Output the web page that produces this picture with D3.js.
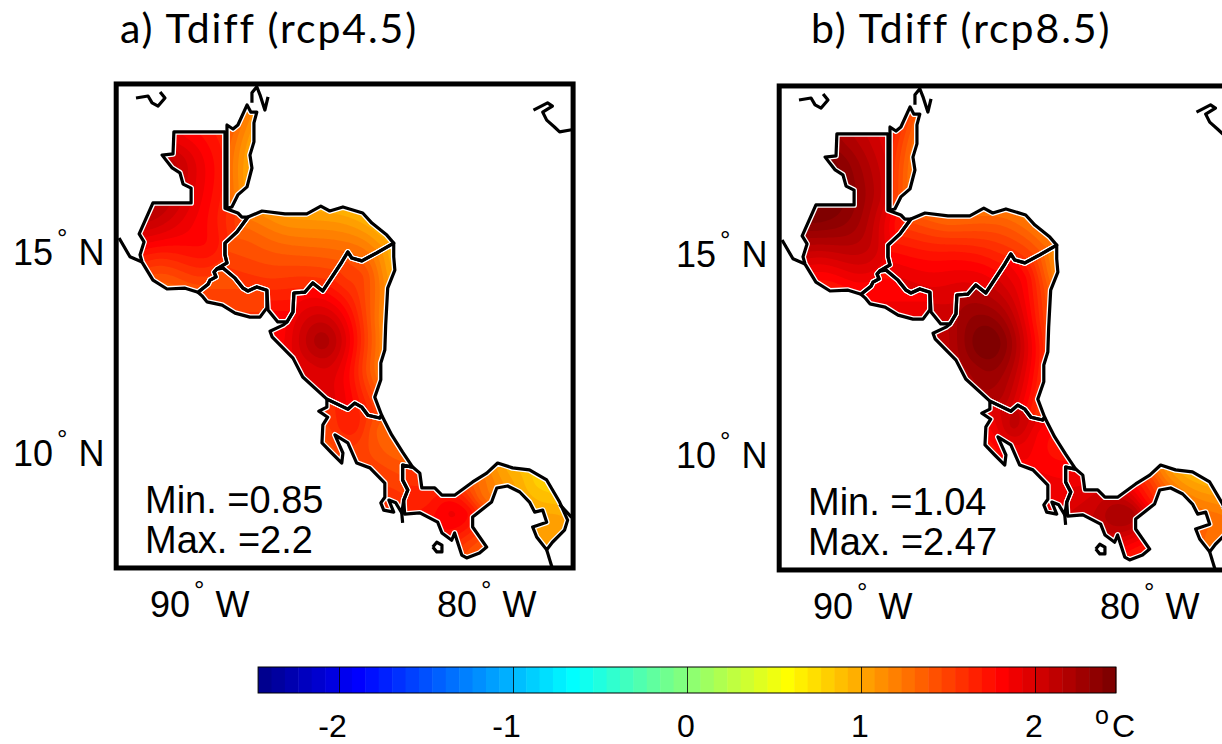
<!DOCTYPE html>
<html>
<head>
<meta charset="utf-8">
<script src="https://cdn.jsdelivr.net/npm/d3@7"></script>
<style>
html, body { margin: 0; padding: 0; background: #fff; overflow: hidden; }
</style>
</head>
<body>
<svg id="chart" width="1222" height="744"></svg>
<script>
// Country outlines, [lon, lat]
const guatemala = [[-90.91,17.99],[-89.13,17.99],[-89.13,16.09],[-88.68,15.97],[-88.54,15.87],[-88.33,15.87],[-88.71,15.50],[-89.13,15.22],[-89.13,14.93],[-89.06,14.73],[-89.41,14.58],[-89.51,14.50],[-89.44,14.38],[-89.65,14.30],[-89.72,14.20],[-90.07,14.00],[-90.52,14.10],[-91.15,14.08],[-91.64,14.30],[-92.02,14.75],[-92.09,14.93],[-91.95,15.25],[-92.12,15.45],[-91.64,16.22],[-90.31,16.22],[-90.31,16.59],[-90.59,16.69],[-90.70,16.97],[-90.97,17.09],[-91.32,17.41],[-90.94,17.44]];
const belize = [[-89.06,18.16],[-88.85,18.06],[-88.68,18.16],[-88.36,18.66],[-88.23,18.48],[-88.02,18.48],[-88.12,18.21],[-88.12,17.74],[-88.26,17.41],[-88.19,17.09],[-88.36,16.62],[-88.68,16.42],[-88.89,16.12],[-89.06,16.09]];
const honduras = [[-88.33,15.87],[-87.84,16.02],[-87.04,15.95],[-86.28,15.95],[-85.79,16.14],[-85.48,16.02],[-85.02,16.12],[-84.33,15.97],[-84.01,15.72],[-83.49,15.42],[-83.25,15.22],[-83.84,14.98],[-84.36,14.78],[-84.71,14.85],[-84.85,15.00],[-85.06,14.75],[-85.72,14.03],[-86.07,14.23],[-86.35,14.00],[-86.73,13.98],[-86.76,13.51],[-86.97,13.26],[-87.29,13.26],[-87.63,13.56],[-87.67,14.05],[-88.02,14.13],[-88.33,14.03],[-88.50,14.10],[-88.78,14.35],[-89.20,14.60],[-89.41,14.58],[-89.06,14.73],[-89.13,14.93],[-89.13,15.22],[-88.71,15.50]];
const elSalvador = [[-89.41,14.58],[-89.20,14.60],[-88.78,14.35],[-88.50,14.10],[-88.33,14.03],[-88.02,14.13],[-87.67,14.05],[-87.67,13.61],[-87.91,13.38],[-88.26,13.38],[-88.78,13.48],[-89.23,13.68],[-89.76,13.76],[-89.93,13.91],[-90.07,14.00],[-89.72,14.20],[-89.65,14.30],[-89.44,14.38],[-89.51,14.50]];
const nicaragua = [[-83.25,15.22],[-83.25,14.88],[-83.21,14.55],[-83.46,14.10],[-83.53,13.18],[-83.56,12.56],[-83.70,12.24],[-83.70,11.82],[-83.91,11.39],[-83.67,10.94],[-83.74,10.87],[-84.15,10.94],[-84.36,11.14],[-84.61,11.24],[-84.85,11.09],[-85.58,11.34],[-86.42,11.89],[-86.76,12.36],[-87.49,12.89],[-87.56,13.03],[-87.11,13.18],[-86.97,13.26],[-86.76,13.51],[-86.73,13.98],[-86.35,14.00],[-86.07,14.23],[-85.72,14.03],[-85.06,14.75],[-84.85,15.00],[-84.71,14.85],[-84.36,14.78],[-83.84,14.98]];
const costaRica = [[-85.58,11.34],[-84.85,11.09],[-84.61,11.24],[-84.36,11.14],[-84.15,10.94],[-83.74,10.87],[-83.67,10.94],[-83.32,10.45],[-82.94,10.02],[-82.59,9.65],[-82.94,9.70],[-82.94,9.33],[-82.76,9.08],[-82.90,8.83],[-82.97,8.51],[-83.18,8.76],[-83.42,8.83],[-83.25,8.53],[-83.60,8.58],[-83.70,8.76],[-83.56,8.90],[-83.56,9.25],[-84.08,9.63],[-84.54,9.75],[-84.85,10.25],[-85.30,10.45],[-85.02,10.00],[-85.06,9.75],[-85.41,10.00],[-85.75,10.25],[-85.72,10.70],[-85.55,10.89],[-85.86,11.04],[-85.58,11.14]];
const panama = [[-82.94,9.70],[-82.59,9.65],[-82.34,9.50],[-82.27,9.13],[-81.82,9.13],[-81.57,8.95],[-81.13,8.95],[-80.50,9.28],[-80.01,9.50],[-79.63,9.75],[-79.11,9.63],[-78.52,9.58],[-77.92,9.33],[-77.47,8.78],[-77.19,8.33],[-77.30,8.08],[-77.72,7.78],[-77.92,7.59],[-78.27,7.91],[-78.41,8.16],[-77.92,8.28],[-78.06,8.58],[-78.34,8.53],[-78.52,8.78],[-78.86,9.03],[-79.28,9.18],[-79.66,9.13],[-79.84,8.78],[-80.50,8.41],[-80.50,8.16],[-80.01,7.66],[-80.26,7.51],[-80.71,7.39],[-80.88,7.46],[-81.13,8.01],[-81.23,7.83],[-81.57,8.01],[-81.72,8.28],[-82.34,8.51],[-82.87,8.48],[-82.90,8.83],[-82.76,9.08],[-82.94,9.33]];

// Coast fragments outside the filled countries
const yucatanCoast = [[-88.19,18.71],[-88.19,18.96],[-88.02,19.11],[-87.91,18.91],[-87.74,18.53],[-87.63,18.86]];
const campecheCoast = [[-92.23,18.83],[-91.81,18.88],[-91.67,18.71],[-91.46,18.63],[-91.22,18.83],[-91.39,18.98]];
const jamaicaCoast = [[-78.38,18.53],[-77.89,18.71],[-77.72,18.63],[-78.06,18.48],[-77.92,18.28],[-77.65,18.11],[-77.47,17.99],[-77.05,18.04]];
const chiapasCoast = [[-92.82,15.35],[-92.44,14.88],[-92.02,14.75]];
const buricaTail = [[-82.97,8.51],[-82.94,8.26]];
const colombiaNorth = [[-77.47,8.72],[-77.05,8.40]];
const colombiaSouth = [[-77.92,7.59],[-77.74,7.17]];
const coiba = [[-81.89,7.66],[-81.75,7.78],[-81.57,7.71],[-81.57,7.54],[-81.75,7.54],[-81.89,7.66]];

// Temperature read at spots inside each country: [lon, lat], then rcp4.5 and rcp8.5 values
const guatemalaSpots = [[-90.70,17.29],[-91.64,16.04],[-90.24,16.79],[-89.30,17.61],[-90.80,17.79],[-89.30,16.37],[-90.24,15.72],[-91.74,15.55],[-88.85,15.80],[-89.65,15.12],[-91.39,14.80],[-91.15,14.13],[-90.24,14.30],[-89.30,14.73]];
const guatemalaA = [2.05,2.15,1.95,1.7,1.9,1.7,1.85,2.0,1.55,1.75,1.6,1.35,1.5,1.6];
const guatemalaB = [2.35,2.47,2.3,2.0,2.25,2.05,2.25,2.3,1.75,2.05,1.95,1.7,1.85,1.9];
const belizeSpots = [[-88.96,17.54],[-88.33,18.41],[-88.26,17.79],[-88.43,17.04],[-88.75,16.54],[-88.99,16.17]];
const belizeA = [1.3,1.2,1.05,1.05,1.2,1.3];
const belizeB = [1.6,1.45,1.3,1.3,1.45,1.55];
const hondurasSpots = [[-87.04,15.80],[-85.13,15.80],[-83.56,15.30],[-88.26,15.42],[-88.78,14.75],[-86.87,15.05],[-85.30,14.93],[-87.56,14.30],[-87.11,13.43],[-86.52,14.18],[-85.82,14.50],[-84.26,15.17]];
const hondurasA = [1.1,1.05,1.0,1.35,1.5,1.35,1.35,1.55,1.8,1.6,1.5,1.2];
const hondurasB = [1.35,1.35,1.25,1.6,1.85,1.7,1.65,1.9,2.05,1.95,1.85,1.45];
const salvadorSpots = [[-89.48,14.18],[-88.61,13.81],[-87.84,13.81]];
const salvadorA = [1.45,1.5,1.5];
const salvadorB = [1.8,1.85,1.85];
const nicaraguaSpots = [[-85.75,12.76],[-86.52,13.56],[-87.22,12.93],[-84.95,14.30],[-84.26,14.43],[-83.56,14.55],[-83.81,13.31],[-84.01,12.06],[-84.15,11.19],[-85.13,11.44],[-84.95,12.81],[-86.17,12.06],[-85.65,13.81]];
const nicaraguaA = [2.2,1.9,1.8,1.55,1.45,1.1,1.25,1.35,1.6,1.9,1.95,1.95,1.85];
const nicaraguaB = [2.47,2.25,2.1,1.95,1.75,1.3,1.6,1.75,1.7,2.15,2.3,2.25,2.2];
const costaRicaSpots = [[-84.78,10.70],[-85.30,10.82],[-85.48,10.20],[-83.91,10.57],[-83.32,10.07],[-83.81,9.58],[-83.21,9.03]];
const costaRicaA = [1.7,1.6,1.45,1.4,1.35,1.5,1.55];
const costaRicaB = [2.1,1.95,1.75,1.85,1.75,1.85,1.9];
const panamaSpots = [[-82.69,9.33],[-82.0,8.71],[-81.30,8.58],[-80.60,8.53],[-80.26,8.90],[-80.67,7.71],[-79.91,9.33],[-79.49,9.48],[-78.86,9.38],[-78.34,9.20],[-77.89,8.83],[-77.65,8.28],[-78.0,7.96]];
const panamaA = [1.6,1.7,1.85,1.75,1.35,1.5,1.2,1.05,0.95,0.85,0.9,1.05,1.05];
const panamaB = [1.9,2.05,2.2,2.2,1.8,1.8,1.5,1.2,1.05,1.04,1.15,1.3,1.3];

const lonTicks = [-90, -80];
const latTicks = [15, 10];
const colorTicks = [-2, -1, 0, 1, 2];
const colorMax = 2.465;
const colorLevels = 64;
const titles = ['a) Tdiff (rcp4.5)', 'b) Tdiff (rcp8.5)'];
const minLabels = ['Min. =0.85', 'Min. =1.04'];
const maxLabels = ['Max. =2.2', 'Max. =2.47'];

const countries = [
    { name: 'gtm', outline: guatemala, spots: guatemalaSpots, values: [guatemalaA, guatemalaB] },
    { name: 'blz', outline: belize, spots: belizeSpots, values: [belizeA, belizeB] },
    { name: 'hnd', outline: honduras, spots: hondurasSpots, values: [hondurasA, hondurasB] },
    { name: 'slv', outline: elSalvador, spots: salvadorSpots, values: [salvadorA, salvadorB] },
    { name: 'nic', outline: nicaragua, spots: nicaraguaSpots, values: [nicaraguaA, nicaraguaB] },
    { name: 'cri', outline: costaRica, spots: costaRicaSpots, values: [costaRicaA, costaRicaB] },
    { name: 'pan', outline: panama, spots: panamaSpots, values: [panamaA, panamaB] }
];
const coastLines = [yucatanCoast, campecheCoast, jamaicaCoast, chiapasCoast, buricaTail, colombiaNorth, colombiaSouth, coiba];

const ARIAL = '"Liberation Sans", Arial, sans-serif';
const CALIBRI = 'Lato, sans-serif';
const GRID_STEP = 0.05;
const LON_STRETCH = 0.72;

const svg = d3.select('#chart');
const defs = svg.append('defs');

// Matlab style jet, level 0 to colorLevels - 1
function jetColor(level) {
    const t = (level + 1) / colorLevels;
    const channel = c => Math.round(255 * Math.max(0, Math.min(1, 1.5 - Math.abs(4 * t - c))));
    return `rgb(${channel(3)},${channel(2)},${channel(1)})`;
}

function solveLinear(A, b) {
    const n = b.length;
    for (let c = 0; c < n; c++) {
        let pivot = c;
        for (let r = c + 1; r < n; r++) if (Math.abs(A[r][c]) > Math.abs(A[pivot][c])) pivot = r;
        [A[c], A[pivot]] = [A[pivot], A[c]];
        [b[c], b[pivot]] = [b[pivot], b[c]];
        for (let r = c + 1; r < n; r++) {
            const f = A[r][c] / A[c][c];
            for (let k = c; k < n; k++) A[r][k] -= f * A[c][k];
            b[r] -= f * b[c];
        }
    }
    const out = new Array(n).fill(0);
    for (let r = n - 1; r >= 0; r--) {
        let s = b[r];
        for (let k = r + 1; k < n; k++) s -= A[r][k] * out[k];
        out[r] = s / A[r][r];
    }
    return out;
}

function kernel(dx, dy) {
    const r2 = dx * dx + dy * dy;
    return r2 < 1e-9 ? 0 : 0.5 * r2 * Math.log(r2);
}

// Thin plate spline through the spots of one country
function fitField(spots, values) {
    const n = spots.length;
    const xs = spots.map(d => d[0] * LON_STRETCH), ys = spots.map(d => d[1]);
    const A = [];
    for (let i = 0; i < n + 3; i++) A.push(new Array(n + 3).fill(0));
    for (let i = 0; i < n; i++) {
        for (let j = 0; j < n; j++) A[i][j] = kernel(xs[i] - xs[j], ys[i] - ys[j]) + (i === j ? 0.02 : 0);
        A[i][n] = A[n][i] = 1;
        A[i][n + 1] = A[n + 1][i] = xs[i];
        A[i][n + 2] = A[n + 2][i] = ys[i];
    }
    const w = solveLinear(A, [...values, 0, 0, 0]);
    return (lon, lat) => {
        const x = lon * LON_STRETCH;
        let v = w[n] + w[n + 1] * x + w[n + 2] * lat;
        for (let i = 0; i < n; i++) v += w[i] * kernel(x - xs[i], lat - ys[i]);
        return v;
    };
}

function drawField(group, country, panelIndex, xScale, yScale) {
    const lons = d3.extent(country.outline, d => d[0]);
    const lats = d3.extent(country.outline, d => d[1]);
    const lon0 = lons[0] - 0.1, lat0 = lats[0] - 0.1;
    const nx = Math.ceil((lons[1] - lons[0] + 0.2) / GRID_STEP);
    const ny = Math.ceil((lats[1] - lats[0] + 0.2) / GRID_STEP);
    const field = fitField(country.spots, country.values[panelIndex]);

    const grid = new Array(nx * ny);
    for (let j = 0; j < ny; j++) {
        for (let i = 0; i < nx; i++) {
            grid[i + j * nx] = field(lon0 + i * GRID_STEP, lat0 + j * GRID_STEP);
        }
    }

    const step = 2 * colorMax / colorLevels;
    const thresholds = d3.range(colorLevels).map(i => -colorMax + i * step);
    const contours = d3.contours().size([nx, ny]).thresholds(thresholds)(grid);
    const path = d3.geoPath(d3.geoTransform({
        point(px, py) {
            this.stream.point(xScale(lon0 + (px - 0.5) * GRID_STEP), yScale(lat0 + (py - 0.5) * GRID_STEP));
        }
    }));

    const clipId = `clip-${country.name}-${panelIndex}`;
    defs.append('clipPath').attr('id', clipId).append('path')
        .attr('d', d3.line().x(d => xScale(d[0])).y(d => yScale(d[1]))(country.outline) + 'Z');

    group.append('g').attr('clip-path', `url(#${clipId})`)
        .selectAll('path')
        .data(contours.map((c, i) => ({ c, i })).filter(d => d.c.coordinates.length))
        .join('path')
        .attr('d', d => path(d.c))
        .attr('fill', d => jetColor(d.i));
}

// Degree labels have the little circle raised and set apart
function degreeLabel(group, x, y, number, hemisphere) {
    const label = group.append('text').attr('x', x).attr('y', y)
        .attr('font-family', ARIAL).attr('font-size', 36).attr('fill', '#000');
    label.append('tspan').text(number);
    label.append('tspan').attr('dx', 4).attr('dy', -18).attr('font-size', 26).text('°');
    label.append('tspan').attr('dx', 11).attr('dy', 18).text(hemisphere);
}

function drawPanel(panelIndex, shiftX, shiftY) {
    const xScale = d3.scaleLinear().domain([-90, -80]).range([200 + shiftX, 487 + shiftX]);
    const yScale = d3.scaleLinear().domain([15, 10]).range([252 + shiftY, 453 + shiftY]);
    const lonEdges = [-92.92, -77.0];
    const latEdges = [19.18, 7.14];
    const line = d3.line().x(d => xScale(d[0])).y(d => yScale(d[1]));

    const panel = svg.append('g');

    const boxId = `box-${panelIndex}`;
    defs.append('clipPath').attr('id', boxId).append('rect')
        .attr('x', xScale(lonEdges[0])).attr('y', yScale(latEdges[0]))
        .attr('width', xScale(lonEdges[1]) - xScale(lonEdges[0]))
        .attr('height', yScale(latEdges[1]) - yScale(latEdges[0]));

    const map = panel.append('g').attr('clip-path', `url(#${boxId})`);
    countries.forEach(c => drawField(map, c, panelIndex, xScale, yScale));

    // White halo under the black borders
    map.selectAll('path.halo').data(countries).join('path')
        .attr('class', 'halo')
        .attr('d', d => line(d.outline) + 'Z')
        .attr('fill', 'none').attr('stroke', '#fff').attr('stroke-width', 5.8).attr('stroke-linejoin', 'round');
    map.selectAll('path.border').data(countries).join('path')
        .attr('class', 'border')
        .attr('d', d => line(d.outline) + 'Z')
        .attr('fill', 'none').attr('stroke', '#000').attr('stroke-width', 3.2).attr('stroke-linejoin', 'round');
    map.selectAll('path.coast').data(coastLines).join('path')
        .attr('class', 'coast')
        .attr('d', d => line(d))
        .attr('fill', 'none').attr('stroke', '#000').attr('stroke-width', 3.2).attr('stroke-linejoin', 'round');

    panel.append('rect')
        .attr('x', xScale(lonEdges[0])).attr('y', yScale(latEdges[0]))
        .attr('width', xScale(lonEdges[1]) - xScale(lonEdges[0]))
        .attr('height', yScale(latEdges[1]) - yScale(latEdges[0]))
        .attr('fill', 'none').attr('stroke', '#000').attr('stroke-width', 5);

    panel.append('text').attr('x', 120 + shiftX + (panelIndex ? 28 : 0)).attr('y', 43)
        .attr('font-family', CALIBRI).attr('font-size', 41).attr('letter-spacing', 1.9).attr('fill', '#000')
        .text(titles[panelIndex]);

    lonTicks.forEach(lon => degreeLabel(panel, xScale(lon) - 50, 617 + shiftY, String(-lon), 'W'));
    latTicks.forEach(lat => degreeLabel(panel, 13 + shiftX, yScale(lat) + 13, String(lat), 'N'));

    panel.append('text').attr('x', 145 + shiftX).attr('y', 513 + shiftY)
        .attr('font-family', ARIAL).attr('font-size', 38).attr('fill', '#000').text(minLabels[panelIndex]);
    panel.append('text').attr('x', 145 + shiftX).attr('y', 553 + shiftY)
        .attr('font-family', ARIAL).attr('font-size', 38).attr('fill', '#000').text(maxLabels[panelIndex]);
}

function drawColorbar() {
    const barTop = 667, barHeight = 26;
    const scale = d3.scaleLinear().domain([-1, 1]).range([513, 861]);
    const left = scale(-colorMax), right = scale(colorMax);
    const bar = svg.append('g');
    const band = d3.scaleBand().domain(d3.range(colorLevels)).range([left, right]);

    bar.selectAll('rect.level').data(d3.range(colorLevels)).join('rect')
        .attr('class', 'level')
        .attr('x', d => band(d)).attr('y', barTop)
        .attr('width', band.bandwidth() + 0.5).attr('height', barHeight)
        .attr('fill', d => jetColor(d));
    bar.append('rect').attr('x', left).attr('y', barTop)
        .attr('width', right - left).attr('height', barHeight)
        .attr('fill', 'none').attr('stroke', '#000').attr('stroke-width', 1);

    const axis = bar.append('g').attr('transform', `translate(0,${barTop + barHeight})`)
        .call(d3.axisBottom(scale).tickValues(colorTicks).tickFormat(d3.format('d')).tickSize(-barHeight).tickPadding(21));
    axis.select('.domain').remove();
    axis.selectAll('line').attr('stroke', '#000').attr('stroke-width', 0.8);
    axis.selectAll('text').attr('font-family', ARIAL).attr('font-size', 32).attr('fill', '#000')
        .text(d => d < 0 ? '-' + (-d) : d)
        .attr('dx', d => d < 0 ? -7 : -1.5);

    const unit = bar.append('text').attr('x', 1095).attr('y', 736.5)
        .attr('font-family', ARIAL).attr('font-size', 32).attr('fill', '#000');
    unit.append('tspan').attr('dy', -13).attr('font-size', 25).text('o');
    unit.append('tspan').attr('dx', 3).attr('dy', 13).text('C');
}

drawPanel(0, 0, 0);
drawPanel(1, 663, 2);
drawColorbar();
</script>
</body>
</html>
